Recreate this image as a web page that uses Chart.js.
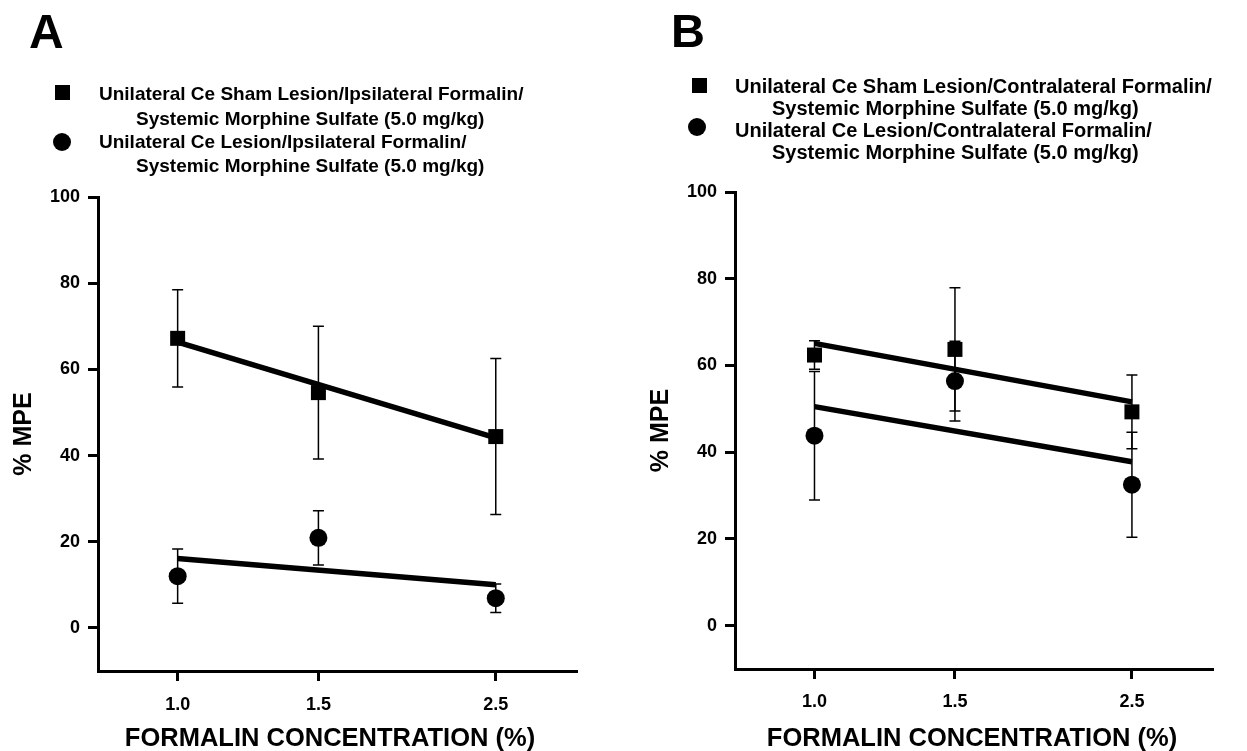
<!DOCTYPE html>
<html><head><meta charset="utf-8">
<script src="https://cdn.jsdelivr.net/npm/chart.js@4.4.1/dist/chart.umd.min.js"></script>
<style>
html,body{margin:0;padding:0;background:#fff;}
body{width:1247px;height:751px;position:relative;overflow:hidden;font-family:"Liberation Sans",Arial,Helvetica,sans-serif;font-weight:bold;color:#000;}
canvas{position:absolute;top:0;}
.t{position:absolute;white-space:nowrap;line-height:1;font-weight:bold;}
.sq{position:absolute;background:#000;}
.ci{position:absolute;background:#000;border-radius:50%;}
</style></head><body>
<canvas id="ca" width="620" height="751" style="left:0"></canvas>
<canvas id="cb" width="610" height="751" style="left:637px"></canvas>
<script>
// ---- data ----
const concentrations = [1.0, 1.5, 2.5];
const xTickLabels = ['1.0', '1.5', '2.5'];
const yTicks = [0, 20, 40, 60, 80, 100];
const fitX = [1.0, 2.5];

// Panel A (ipsilateral formalin)
const aShamMean = [67.2, 54.6, 44.4];
const aShamSem = [11.3, 15.4, 18.1];
const aLesionMean = [12.0, 20.9, 6.9];
const aLesionSem = [6.3, 6.3, 3.3];
const aShamFit = [66.3, 44.1];
const aLesionFit = [16.1, 10.0];

// Panel B (contralateral formalin)
const bShamMean = [62.4, 63.7, 49.3];
const bShamSem = [3.3, 14.2, 8.5];
const bLesionMean = [43.8, 56.4, 32.5];
const bLesionSem = [14.8, 9.2, 12.1];
const bShamFit = [65.1, 51.6];
const bLesionFit = [50.5, 37.8];

const xTitle = 'FORMALIN CONCENTRATION (%)';
const yTitle = '% MPE';
const legendA = [
  'Unilateral Ce Sham Lesion/Ipsilateral Formalin/',
  'Systemic Morphine Sulfate (5.0 mg/kg)',
  'Unilateral Ce Lesion/Ipsilateral Formalin/',
  'Systemic Morphine Sulfate (5.0 mg/kg)'
];
const legendB = [
  'Unilateral Ce Sham Lesion/Contralateral Formalin/',
  'Systemic Morphine Sulfate (5.0 mg/kg)',
  'Unilateral Ce Lesion/Contralateral Formalin/',
  'Systemic Morphine Sulfate (5.0 mg/kg)'
];

// ---- text helpers ----
function addText(txt, x, baseline, size, center) {
  const d = document.createElement('div');
  d.className = 't';
  d.textContent = txt;
  d.style.fontSize = size + 'px';
  d.style.top = (baseline - 0.8465 * size) + 'px';
  if (center) { d.style.left = x + 'px'; d.style.transform = 'translateX(-50%)'; }
  else d.style.left = x + 'px';
  document.body.appendChild(d);
}
function addBox(cls, x, y, w, h) {
  const d = document.createElement('div');
  d.className = cls;
  d.style.left = x + 'px'; d.style.top = y + 'px';
  d.style.width = w + 'px'; d.style.height = h + 'px';
  document.body.appendChild(d);
}

addText('A', 29, 49, 48);
addBox('sq', 55, 85, 15, 15);
addBox('ci', 53, 133, 18, 18);
addText(legendA[0], 99, 100, 19);
addText(legendA[1], 136, 125, 19);
addText(legendA[2], 99, 148, 19);
addText(legendA[3], 136, 172, 19);
addText(xTitle, 330, 747, 25.5, true);

addText('B', 671, 47, 47);
addBox('sq', 692, 78, 15, 15);
addBox('ci', 688, 118, 18, 18);
addText(legendB[0], 735, 93, 20);
addText(legendB[1], 772, 115, 20);
addText(legendB[2], 735, 137, 20);
addText(legendB[3], 772, 159, 20);
addText(xTitle, 972, 747, 25.5, true);

// ---- chart ----
Chart.defaults.font.family = '"Liberation Sans", Arial, Helvetica, sans-serif';
Chart.defaults.color = '#000';

const errorBarPlugin = {
  id: 'errbars',
  beforeDatasetsDraw(chart, args, opts) {
    const ctx = chart.ctx, xs = chart.scales.x, ys = chart.scales.y;
    ctx.save();
    ctx.strokeStyle = '#000';
    ctx.lineWidth = 1.5;
    (opts.series || []).forEach(s => {
      s.mean.forEach((m, i) => {
        const px = xs.getPixelForValue(concentrations[i]);
        const top = ys.getPixelForValue(m + s.err[i]);
        const bot = ys.getPixelForValue(m - s.err[i]);
        ctx.beginPath();
        ctx.moveTo(px, top); ctx.lineTo(px, bot);
        ctx.moveTo(px - 5.5, top); ctx.lineTo(px + 5.5, top);
        ctx.moveTo(px - 5.5, bot); ctx.lineTo(px + 5.5, bot);
        ctx.stroke();
      });
    });
    ctx.restore();
  }
};

function pts(xv, yv) { return xv.map((v, i) => ({x: v, y: yv[i]})); }

function makeChart(id, sham, shamErr, lesion, lesionErr, shamFit, lesionFit, pad, xHeight, xPad) {
  const gridOpts = {drawOnChartArea: false, drawTicks: true, tickLength: 10, lineWidth: 3, tickWidth: 3, tickColor: '#000', color: '#000'};
  return new Chart(document.getElementById(id), {
    type: 'scatter',
    data: {
      datasets: [
        {data: pts(concentrations, sham), pointStyle: 'rect', pointRadius: 10.6, pointHoverRadius: 10.6, backgroundColor: '#000', borderColor: '#000', borderWidth: 0},
        {data: pts(concentrations, lesion), pointStyle: 'circle', pointRadius: 9, pointHoverRadius: 9, backgroundColor: '#000', borderColor: '#000', borderWidth: 0},
        {data: pts(fitX, shamFit), showLine: true, borderColor: '#000', borderWidth: 5.5, pointRadius: 0, fill: false, borderCapStyle: 'butt'},
        {data: pts(fitX, lesionFit), showLine: true, borderColor: '#000', borderWidth: 5.5, pointRadius: 0, fill: false, borderCapStyle: 'butt'}
      ]
    },
    options: {
      responsive: false,
      animation: false,
      events: [],
      layout: {padding: pad, autoPadding: false},
      plugins: {
        legend: {display: false},
        tooltip: {enabled: false},
        errbars: {series: [{mean: sham, err: shamErr}, {mean: lesion, err: lesionErr}]}
      },
      scales: {
        x: {
          type: 'logarithmic', min: 0.795, max: 3.15,
          afterBuildTicks: s => { s.ticks = concentrations.map(v => ({value: v})); },
          afterFit: s => { s.height = xHeight; },
          ticks: {callback: (v, i) => xTickLabels[i], font: {size: 18, weight: 'bold'}, color: '#000', padding: xPad, autoSkip: false, maxRotation: 0, minRotation: 0},
          grid: gridOpts,
          border: {display: true, color: '#000', width: 3},
          title: {display: false}
        },
        y: {
          type: 'linear', min: -10, max: 100,
          afterBuildTicks: s => { s.ticks = yTicks.map(v => ({value: v})); },
          afterFit: s => { s.width = 98; },
          ticks: {font: {size: 18, weight: 'bold'}, color: '#000', padding: 8},
          grid: gridOpts,
          border: {display: true, color: '#000', width: 3},
          title: {display: true, text: yTitle, color: '#000', font: {size: 25, weight: 'bold', lineHeight: 1}, padding: {top: 11.5, bottom: 0}}
        }
      }
    },
    plugins: [errorBarPlugin]
  });
}

makeChart('ca', aShamMean, aShamSem, aLesionMean, aLesionSem, aShamFit, aLesionFit,
  {top: 197, right: 44, bottom: 0, left: 0}, 80, 13);
makeChart('cb', bShamMean, bShamSem, bLesionMean, bLesionSem, bShamFit, bLesionFit,
  {top: 192, right: 35, bottom: 0, left: 0}, 82, 12);
</script>
</body></html>
